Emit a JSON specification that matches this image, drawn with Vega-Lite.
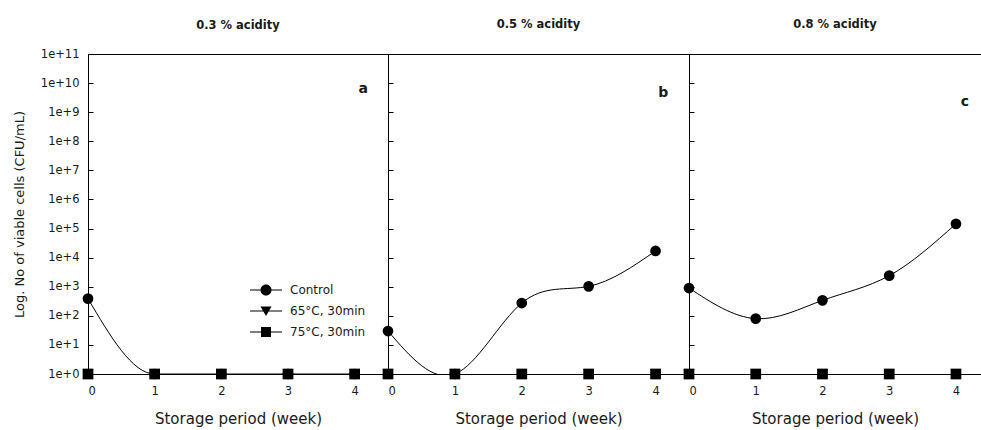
{
  "$schema": "https://vega.github.io/schema/vega-lite/v6.json",
  "background": "white",
  "padding": {"left": 12, "top": 18, "right": 0, "bottom": 0},
  "bounds": "flush",
  "spacing": 0,
  "resolve": {"scale": {"shape": "independent"}, "legend": {"shape": "independent"}},
  "datasets": {
    "cells": [
      {"acidity": "0.3 % acidity", "week": 0, "treatment": "Control", "cells": 390},
      {"acidity": "0.3 % acidity", "week": 1, "treatment": "Control", "cells": 1},
      {"acidity": "0.3 % acidity", "week": 2, "treatment": "Control", "cells": 1},
      {"acidity": "0.3 % acidity", "week": 3, "treatment": "Control", "cells": 1},
      {"acidity": "0.3 % acidity", "week": 4, "treatment": "Control", "cells": 1},
      {"acidity": "0.3 % acidity", "week": 0, "treatment": "65°C, 30min", "cells": 1},
      {"acidity": "0.3 % acidity", "week": 1, "treatment": "65°C, 30min", "cells": 1},
      {"acidity": "0.3 % acidity", "week": 2, "treatment": "65°C, 30min", "cells": 1},
      {"acidity": "0.3 % acidity", "week": 3, "treatment": "65°C, 30min", "cells": 1},
      {"acidity": "0.3 % acidity", "week": 4, "treatment": "65°C, 30min", "cells": 1},
      {"acidity": "0.3 % acidity", "week": 0, "treatment": "75°C, 30min", "cells": 1},
      {"acidity": "0.3 % acidity", "week": 1, "treatment": "75°C, 30min", "cells": 1},
      {"acidity": "0.3 % acidity", "week": 2, "treatment": "75°C, 30min", "cells": 1},
      {"acidity": "0.3 % acidity", "week": 3, "treatment": "75°C, 30min", "cells": 1},
      {"acidity": "0.3 % acidity", "week": 4, "treatment": "75°C, 30min", "cells": 1},
      {"acidity": "0.5 % acidity", "week": 0, "treatment": "Control", "cells": 30},
      {"acidity": "0.5 % acidity", "week": 1, "treatment": "Control", "cells": 1},
      {"acidity": "0.5 % acidity", "week": 2, "treatment": "Control", "cells": 275},
      {"acidity": "0.5 % acidity", "week": 3, "treatment": "Control", "cells": 1030},
      {"acidity": "0.5 % acidity", "week": 4, "treatment": "Control", "cells": 17000},
      {"acidity": "0.5 % acidity", "week": 0, "treatment": "65°C, 30min", "cells": 1},
      {"acidity": "0.5 % acidity", "week": 1, "treatment": "65°C, 30min", "cells": 1},
      {"acidity": "0.5 % acidity", "week": 2, "treatment": "65°C, 30min", "cells": 1},
      {"acidity": "0.5 % acidity", "week": 3, "treatment": "65°C, 30min", "cells": 1},
      {"acidity": "0.5 % acidity", "week": 4, "treatment": "65°C, 30min", "cells": 1},
      {"acidity": "0.5 % acidity", "week": 0, "treatment": "75°C, 30min", "cells": 1},
      {"acidity": "0.5 % acidity", "week": 1, "treatment": "75°C, 30min", "cells": 1},
      {"acidity": "0.5 % acidity", "week": 2, "treatment": "75°C, 30min", "cells": 1},
      {"acidity": "0.5 % acidity", "week": 3, "treatment": "75°C, 30min", "cells": 1},
      {"acidity": "0.5 % acidity", "week": 4, "treatment": "75°C, 30min", "cells": 1},
      {"acidity": "0.8 % acidity", "week": 0, "treatment": "Control", "cells": 900},
      {"acidity": "0.8 % acidity", "week": 1, "treatment": "Control", "cells": 80},
      {"acidity": "0.8 % acidity", "week": 2, "treatment": "Control", "cells": 340},
      {"acidity": "0.8 % acidity", "week": 3, "treatment": "Control", "cells": 2400},
      {"acidity": "0.8 % acidity", "week": 4, "treatment": "Control", "cells": 145000},
      {"acidity": "0.8 % acidity", "week": 0, "treatment": "65°C, 30min", "cells": 1},
      {"acidity": "0.8 % acidity", "week": 1, "treatment": "65°C, 30min", "cells": 1},
      {"acidity": "0.8 % acidity", "week": 2, "treatment": "65°C, 30min", "cells": 1},
      {"acidity": "0.8 % acidity", "week": 3, "treatment": "65°C, 30min", "cells": 1},
      {"acidity": "0.8 % acidity", "week": 4, "treatment": "65°C, 30min", "cells": 1},
      {"acidity": "0.8 % acidity", "week": 0, "treatment": "75°C, 30min", "cells": 1},
      {"acidity": "0.8 % acidity", "week": 1, "treatment": "75°C, 30min", "cells": 1},
      {"acidity": "0.8 % acidity", "week": 2, "treatment": "75°C, 30min", "cells": 1},
      {"acidity": "0.8 % acidity", "week": 3, "treatment": "75°C, 30min", "cells": 1},
      {"acidity": "0.8 % acidity", "week": 4, "treatment": "75°C, 30min", "cells": 1}
    ],
    "letters": [
      {"acidity": "0.3 % acidity", "letter": "a"},
      {"acidity": "0.5 % acidity", "letter": "b"},
      {"acidity": "0.8 % acidity", "letter": "c"}
    ]
  },
  "config": {
    "font": "DejaVu Sans",
    "view": {"stroke": "black", "strokeWidth": 1},
    "axis": {
      "grid": false,
      "domainColor": "black",
      "tickColor": "black",
      "labelColor": "#1a1a1a",
      "titleColor": "#1a1a1a",
      "labelFont": "DejaVu Sans",
      "titleFont": "DejaVu Sans",
      "labelFontSize": 11.5,
      "titleFontSize": 13,
      "titleFontWeight": "normal"
    },
    "title": {"font": "DejaVu Sans", "fontSize": 11.5, "fontWeight": "bold", "color": "#1a1a1a", "anchor": "middle"},
    "legend": {
      "orient": "none",
      "legendX": 168,
      "legendY": 226,
      "title": null,
      "padding": 0,
      "rowPadding": 5,
      "symbolSize": 400,
      "symbolFillColor": "black",
      "symbolStrokeColor": "black",
      "symbolStrokeWidth": 0,
      "symbolOpacity": 1,
      "labelFont": "DejaVu Sans",
      "labelFontSize": 12,
      "labelColor": "#1a1a1a",
      "labelOffset": 14
    }
  },
  "hconcat": [
    {
      "width": 300,
      "height": 320,
      "title": {"text": "0.3 % acidity", "offset": 17},
      "resolve": {"scale": {"shape": "independent"}, "legend": {"shape": "independent"}},
      "layer": [
        {
          "data": {"name": "cells"},
          "transform": [{"filter": "datum.acidity === '0.3 % acidity' && datum.treatment === 'Control'"}],
          "mark": {"type": "line", "interpolate": "monotone", "clip": true, "color": "black", "strokeWidth": 1},
          "encoding": {
            "x": {"field": "week", "type": "quantitative", "scale": {"domain": [0, 4.5], "nice": false}, "axis": {"values": [0, 1, 2, 3, 4], "format": "d", "title": "Storage period (week)", "titleFontSize": 15, "tickSize": -5, "labelPadding": 16, "titlePadding": 15}},
            "y": {"field": "cells", "type": "quantitative", "scale": {"type": "log", "domain": [1, 100000000000]}, "axis": {"values": [1, 10, 100, 1000, 10000, 100000, 1000000, 10000000, 100000000, 1000000000, 10000000000, 100000000000], "labelExpr": "'1e+' + round(log(datum.value)/LN10)", "title": "Log. No of viable cells (CFU/mL)", "tickSize": -5, "labelPadding": 14, "titlePadding": 14}}
          }
        },
        {
          "data": {"name": "cells"},
          "transform": [{"filter": "datum.acidity === '0.3 % acidity'"}],
          "mark": {"type": "point", "filled": true, "opacity": 1, "color": "black", "size": 115},
          "encoding": {
            "x": {"field": "week", "type": "quantitative"},
            "y": {"field": "cells", "type": "quantitative"},
            "shape": {"field": "treatment", "type": "nominal", "scale": {"domain": ["Control", "65°C, 30min", "75°C, 30min"], "range": ["circle", "triangle-down", "square"]}, "legend": null}
          }
        },
        {
          "data": {"name": "cells"},
          "transform": [{"filter": "datum.acidity === 'legend only'"}],
          "mark": {"type": "point", "filled": true, "opacity": 1, "color": "black", "size": 400},
          "encoding": {
            "x": {"field": "week", "type": "quantitative"},
            "y": {"field": "cells", "type": "quantitative"},
            "shape": {"field": "treatment", "type": "nominal", "scale": {"domain": ["Control", "65°C, 30min", "75°C, 30min"], "range": ["M-1.6,-0.06H1.6V0.06H-1.6ZM0.55,0A0.55,0.55,0,1,1,-0.55,0A0.55,0.55,0,1,1,0.55,0Z", "M-1.6,-0.06H1.6V0.06H-1.6ZM-0.55,-0.45L0.55,-0.45L0,0.5Z", "M-1.6,-0.06H1.6V0.06H-1.6ZM-0.5,-0.5H0.5V0.5H-0.5Z"]}}
          }
        },
        {
          "data": {"name": "letters"},
          "transform": [{"filter": "datum.acidity === '0.3 % acidity'"}],
          "mark": {"type": "text", "fontSize": 14, "fontWeight": "bold", "color": "#1a1a1a", "font": "DejaVu Sans"},
          "encoding": {
            "x": {"datum": 4.13, "type": "quantitative"},
            "y": {"datum": 6400000000, "type": "quantitative"},
            "text": {"field": "letter"}
          }
        }
      ]
    },
    {
      "width": 301,
      "height": 320,
      "title": {"text": "0.5 % acidity", "offset": 23},
      "layer": [
        {
          "data": {"name": "cells"},
          "transform": [{"filter": "datum.acidity === '0.5 % acidity' && datum.treatment === 'Control'"}],
          "mark": {"type": "line", "interpolate": "natural", "clip": true, "color": "black", "strokeWidth": 1},
          "encoding": {
            "x": {"field": "week", "type": "quantitative", "scale": {"domain": [0, 4.5], "nice": false}, "axis": {"values": [0, 1, 2, 3, 4], "format": "d", "title": "Storage period (week)", "titleFontSize": 15, "tickSize": -5, "labelPadding": 16, "titlePadding": 15}},
            "y": {"field": "cells", "type": "quantitative", "scale": {"type": "log", "domain": [1, 100000000000]}, "axis": {"values": [1, 10, 100, 1000, 10000, 100000, 1000000, 10000000, 100000000, 1000000000, 10000000000, 100000000000], "labels": false, "title": null, "tickSize": -5}}
          }
        },
        {
          "data": {"name": "cells"},
          "transform": [{"filter": "datum.acidity === '0.5 % acidity'"}],
          "mark": {"type": "point", "filled": true, "opacity": 1, "color": "black", "size": 115},
          "encoding": {
            "x": {"field": "week", "type": "quantitative"},
            "y": {"field": "cells", "type": "quantitative"},
            "shape": {"field": "treatment", "type": "nominal", "scale": {"domain": ["Control", "65°C, 30min", "75°C, 30min"], "range": ["circle", "triangle-down", "square"]}, "legend": null}
          }
        },
        {
          "data": {"name": "letters"},
          "transform": [{"filter": "datum.acidity === '0.5 % acidity'"}],
          "mark": {"type": "text", "fontSize": 14, "fontWeight": "bold", "color": "#1a1a1a", "font": "DejaVu Sans"},
          "encoding": {
            "x": {"datum": 4.115, "type": "quantitative"},
            "y": {"datum": 4700000000, "type": "quantitative"},
            "text": {"field": "letter"}
          }
        }
      ]
    },
    {
      "width": 292,
      "height": 320,
      "title": {"text": "0.8 % acidity", "offset": 23},
      "layer": [
        {
          "data": {"name": "cells"},
          "transform": [{"filter": "datum.acidity === '0.8 % acidity' && datum.treatment === 'Control'"}],
          "mark": {"type": "line", "interpolate": "natural", "clip": true, "color": "black", "strokeWidth": 1},
          "encoding": {
            "x": {"field": "week", "type": "quantitative", "scale": {"domain": [0, 4.375], "nice": false}, "axis": {"values": [0, 1, 2, 3, 4], "format": "d", "title": "Storage period (week)", "titleFontSize": 15, "tickSize": -5, "labelPadding": 16, "titlePadding": 15}},
            "y": {"field": "cells", "type": "quantitative", "scale": {"type": "log", "domain": [1, 100000000000]}, "axis": {"values": [1, 10, 100, 1000, 10000, 100000, 1000000, 10000000, 100000000, 1000000000, 10000000000, 100000000000], "labels": false, "title": null, "tickSize": -5}}
          }
        },
        {
          "data": {"name": "cells"},
          "transform": [{"filter": "datum.acidity === '0.8 % acidity'"}],
          "mark": {"type": "point", "filled": true, "opacity": 1, "color": "black", "size": 115},
          "encoding": {
            "x": {"field": "week", "type": "quantitative"},
            "y": {"field": "cells", "type": "quantitative"},
            "shape": {"field": "treatment", "type": "nominal", "scale": {"domain": ["Control", "65°C, 30min", "75°C, 30min"], "range": ["circle", "triangle-down", "square"]}, "legend": null}
          }
        },
        {
          "data": {"name": "letters"},
          "transform": [{"filter": "datum.acidity === '0.8 % acidity'"}],
          "mark": {"type": "text", "fontSize": 14, "fontWeight": "bold", "color": "#1a1a1a", "font": "DejaVu Sans"},
          "encoding": {
            "x": {"datum": 4.135, "type": "quantitative"},
            "y": {"datum": 2200000000, "type": "quantitative"},
            "text": {"field": "letter"}
          }
        }
      ]
    }
  ]
}
